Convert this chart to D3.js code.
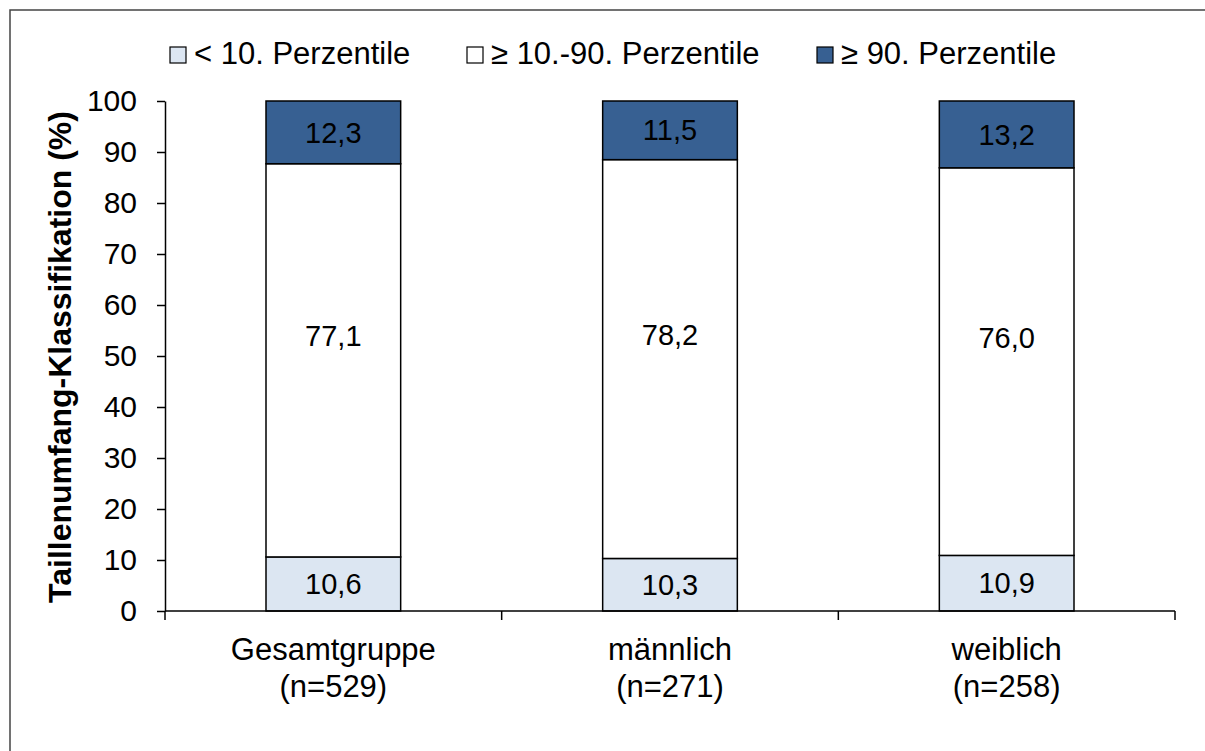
<!DOCTYPE html>
<html>
<head>
<meta charset="utf-8">
<script src="https://cdn.jsdelivr.net/npm/d3@7"></script>
<style>
  body { margin: 0; background: #fff; }
  svg { display: block; font-family: Arial, "Liberation Sans", sans-serif; }
</style>
</head>
<body>
<svg id="chart" width="1205" height="751"></svg>
<script>
  // categories and series
  var categories = ["Gesamtgruppe", "männlich", "weiblich"];
  var sampleSizes = ["(n=529)", "(n=271)", "(n=258)"];
  var seriesNames = ["< 10. Perzentile", "≥ 10.-90. Perzentile", "≥ 90. Perzentile"];
  var below10 = [10.6, 10.3, 10.9];
  var between = [77.1, 78.2, 76.0];
  var above90 = [12.3, 11.5, 13.2];
  var yTicks = [0, 10, 20, 30, 40, 50, 60, 70, 80, 90, 100];
  var colors = ["#dce6f2", "#ffffff", "#376092"];

  // german decimal comma
  var de = d3.formatLocale({ decimal: ",", thousands: ".", grouping: [3], currency: ["", " €"] });
  var fmt = de.format(".1f");

  // build rows for the stack
  var rows = categories.map(function(c, i) {
    return { cat: c, s0: below10[i], s1: between[i], s2: above90[i] };
  });
  var stack = d3.stack().keys(["s0", "s1", "s2"]);
  var layers = stack(rows);

  var svg = d3.select("#chart");

  // outer frame (only top and left visible)
  svg.append("rect")
    .attr("x", 10).attr("y", 10)
    .attr("width", 1300).attr("height", 900)
    .attr("fill", "none")
    .attr("stroke", "#444")
    .attr("stroke-width", 1.5);

  var plotLeft = 165, plotRight = 1175, plotTop = 101, plotBottom = 611;

  var x = d3.scaleBand().domain(categories).range([plotLeft, plotRight]).paddingInner(0.6).paddingOuter(0.3);
  var xBand = d3.scaleBand().domain(categories).range([plotLeft, plotRight]);
  var y = d3.scaleLinear().domain([0, 100]).range([plotBottom, plotTop]);

  // y axis
  var yAxis = svg.append("g")
    .attr("transform", "translate(" + plotLeft + ",0)")
    .call(d3.axisLeft(y).tickValues(yTicks).tickSize(8).tickPadding(20).tickSizeOuter(0));
  yAxis.selectAll("text").attr("font-size", 30).attr("fill", "#000").attr("font-family", "Arial, 'Liberation Sans', sans-serif");
  yAxis.selectAll("line").attr("stroke", "#000").attr("stroke-width", 1.5);
  yAxis.select(".domain").attr("stroke", "#000").attr("stroke-width", 1.5);

  // bars
  svg.append("g").selectAll("g")
    .data(layers)
    .join("g")
    .attr("fill", function(d, i) { return colors[i]; })
    .selectAll("rect")
    .data(function(d) { return d; })
    .join("rect")
    .attr("x", function(d) { return x(d.data.cat); })
    .attr("width", x.bandwidth())
    .attr("y", function(d) { return y(Math.min(d[1], 100)); })
    .attr("height", function(d) { return y(d[0]) - y(Math.min(d[1], 100)); })
    .attr("stroke", "#000")
    .attr("stroke-width", 1.5);

  // value labels (middle segment labels sit a bit above centre, like the original)
  svg.append("g").selectAll("g")
    .data(layers)
    .join("g")
    .each(function(layer, li) {
      d3.select(this).selectAll("text")
        .data(layer)
        .join("text")
        .attr("x", function(d) { return x(d.data.cat) + x.bandwidth() / 2; })
        .attr("y", function(d) { return y((d[0] + Math.min(d[1], 100)) / 2) + (li === 1 ? -24 : 0); })
        .attr("dy", "0.35em")
        .attr("text-anchor", "middle")
        .attr("font-size", 29)
        .attr("fill", "#000")
        .text(function(d) { return fmt(d[1] - d[0]); });
    });

  // x axis with boundary ticks
  var xAxis = svg.append("g").attr("transform", "translate(0," + plotBottom + ")");
  xAxis.append("line")
    .attr("x1", plotLeft).attr("x2", plotRight)
    .attr("stroke", "#000").attr("stroke-width", 1.5);
  var edges = categories.map(function(c) { return xBand(c); }).concat([plotRight]);
  xAxis.selectAll(".tk")
    .data(edges)
    .join("line")
    .attr("class", "tk")
    .attr("x1", function(d) { return d; }).attr("x2", function(d) { return d; })
    .attr("y1", 0).attr("y2", 9)
    .attr("stroke", "#000").attr("stroke-width", 1.5);

  // category labels, two lines
  var catLabels = svg.append("g").selectAll("text")
    .data(categories)
    .join("text")
    .attr("text-anchor", "middle")
    .attr("font-size", 31)
    .attr("fill", "#000");
  catLabels.append("tspan")
    .attr("x", function(d) { return x(d) + x.bandwidth() / 2; })
    .attr("y", 660)
    .text(function(d) { return d; });
  catLabels.append("tspan")
    .attr("x", function(d) { return x(d) + x.bandwidth() / 2; })
    .attr("y", 697)
    .text(function(d, i) { return sampleSizes[i]; });

  // y axis title
  svg.append("text")
    .attr("transform", "translate(71,357) rotate(-90)")
    .attr("text-anchor", "middle")
    .attr("font-size", 32)
    .attr("font-weight", "bold")
    .attr("fill", "#000")
    .text("Taillenumfang-Klassifikation (%)");

  // legend
  var legendX = [170, 467, 817];
  var legend = svg.append("g").selectAll("g")
    .data(seriesNames)
    .join("g")
    .attr("transform", function(d, i) { return "translate(" + legendX[i] + ",0)"; });
  legend.append("rect")
    .attr("x", 0).attr("y", 47)
    .attr("width", 16).attr("height", 16)
    .attr("fill", function(d, i) { return colors[i]; })
    .attr("stroke", "#000")
    .attr("stroke-width", 1.2);
  legend.append("text")
    .attr("x", 24).attr("y", 64)
    .attr("font-size", 31)
    .attr("fill", "#000")
    .text(function(d) { return d; });
</script>
</body>
</html>
